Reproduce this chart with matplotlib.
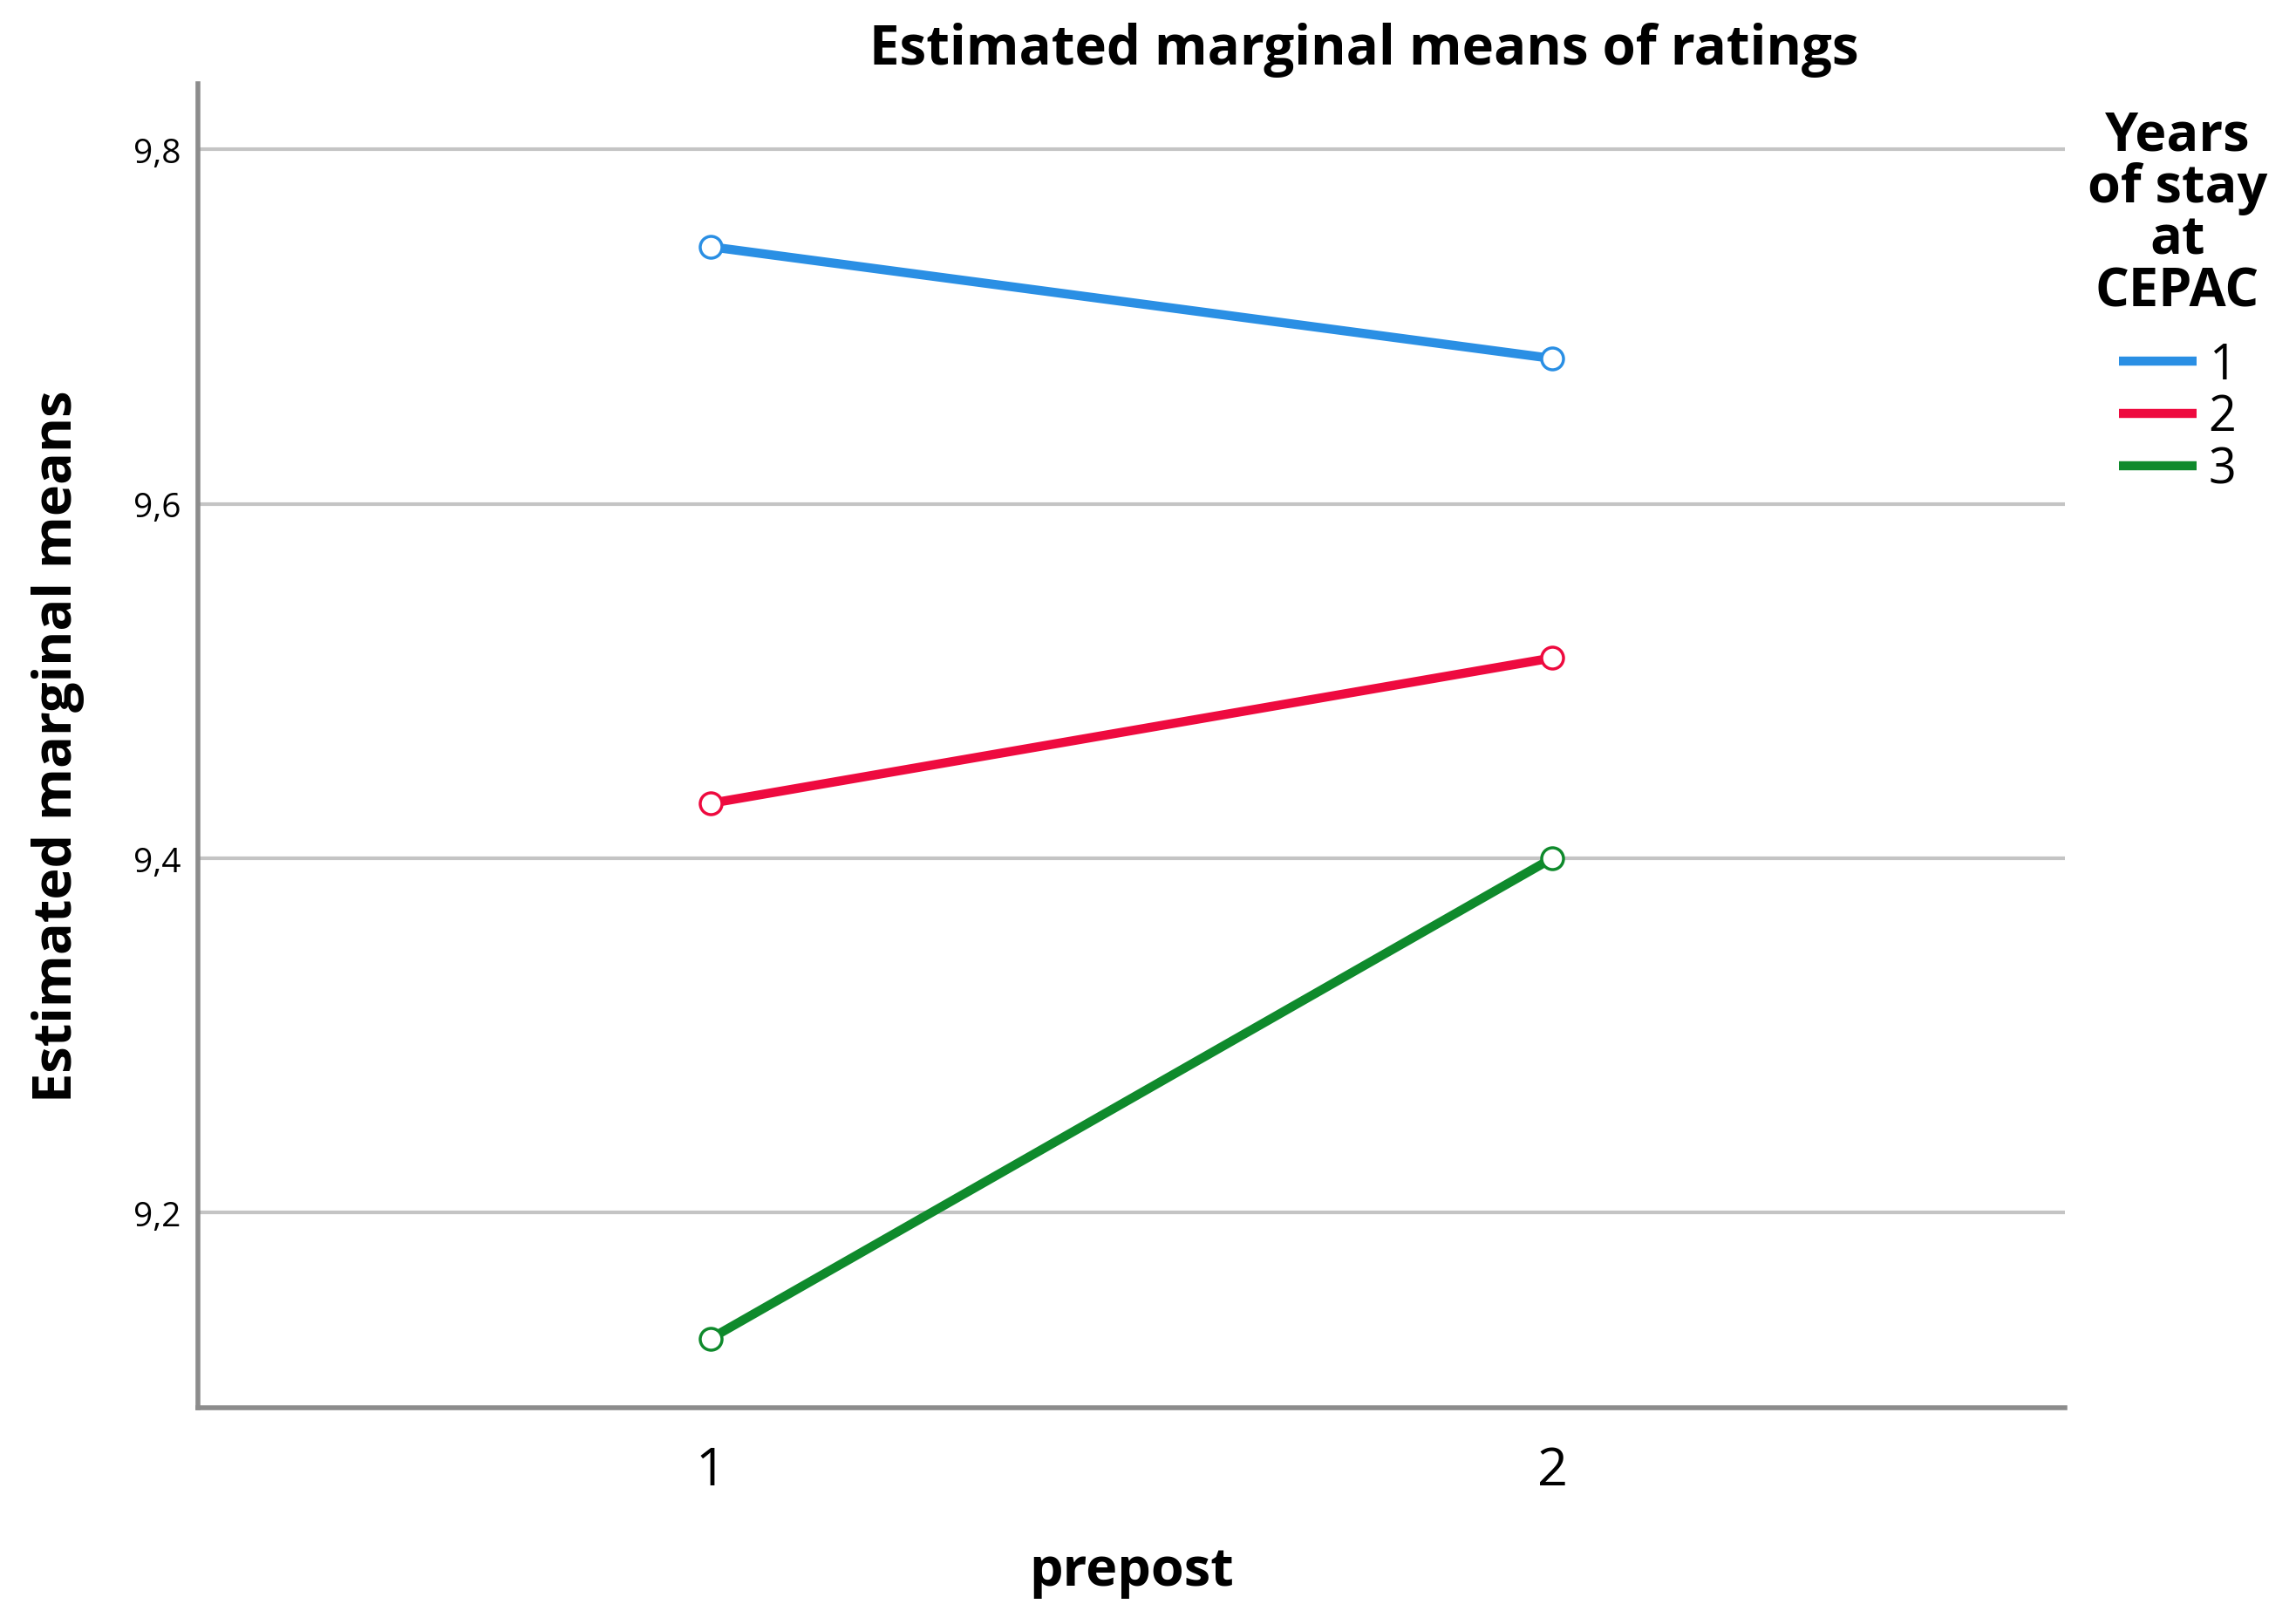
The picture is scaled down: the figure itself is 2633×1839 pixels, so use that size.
import matplotlib
matplotlib.use('Agg')
import matplotlib.pyplot as plt

# estimated marginal means
prepost = [1, 2]
years_1 = [9.745, 9.682]
years_2 = [9.431, 9.513]
years_3 = [9.129, 9.400]
groups = ['1', '2', '3']
colors = ['#2a8fe4', '#ee0a3f', '#0f8a2c']
yticks = [9.2, 9.4, 9.6, 9.8]
ytick_labels = ['9,2', '9,4', '9,6', '9,8']

plt.rcParams['font.family'] = ['Open Sans', 'DejaVu Sans']

fig = plt.figure(figsize=(26.33, 18.4), dpi=100)
ax = fig.add_axes([0.0862, 0.1223, 0.8131, 0.825])

for vals, lab, c in zip([years_1, years_2, years_3], groups, colors):
    ax.plot(prepost, vals, color=c, lw=7.5, label=lab, solid_capstyle='butt', zorder=3)
    ax.plot(prepost, vals, 'o', ms=18, mfc='white', mec=c, mew=2.5, zorder=4)

ax.set_xlim(0.391, 2.609)
ax.set_ylim(9.09, 9.837)
ax.set_xticks(prepost)
ax.set_xticklabels(['1', '2'], fontsize=44)
ax.set_yticks(yticks)
ax.set_yticklabels(ytick_labels, fontsize=28)
ax.tick_params(length=0, pad=14)
ax.tick_params(axis='x', pad=30)
ax.yaxis.grid(True, color='#c4c4c4', lw=3)
ax.set_axisbelow(True)
for s in ['top', 'right']:
    ax.spines[s].set_visible(False)
for s in ['left', 'bottom']:
    ax.spines[s].set_color('#8c8c8c')
    ax.spines[s].set_linewidth(4)

ax.set_xlabel('prepost', fontsize=44, fontweight='bold', labelpad=40)
ax.set_ylabel('Estimated marginal means', fontsize=44, fontweight='bold', labelpad=40)
fig.text(0.594, 0.969, 'Estimated marginal means of ratings', fontsize=44.5,
         fontweight='bold', ha='center', va='center')

leg = ax.legend(title='Years\nof stay\nat\nCEPAC', loc='upper left',
                bbox_to_anchor=(0.994, 1.006), frameon=False, fontsize=40,
                title_fontproperties={'weight': 'bold', 'size': 44},
                handlelength=1.6, handletextpad=0.25, labelspacing=0.05,
                borderaxespad=0.3)
leg.get_title().set_multialignment('center')
leg.get_title().set_linespacing(0.97)
leg._legend_box.align = 'center'
leg._legend_box.sep = 18

fig.savefig('out.png', dpi=100)
